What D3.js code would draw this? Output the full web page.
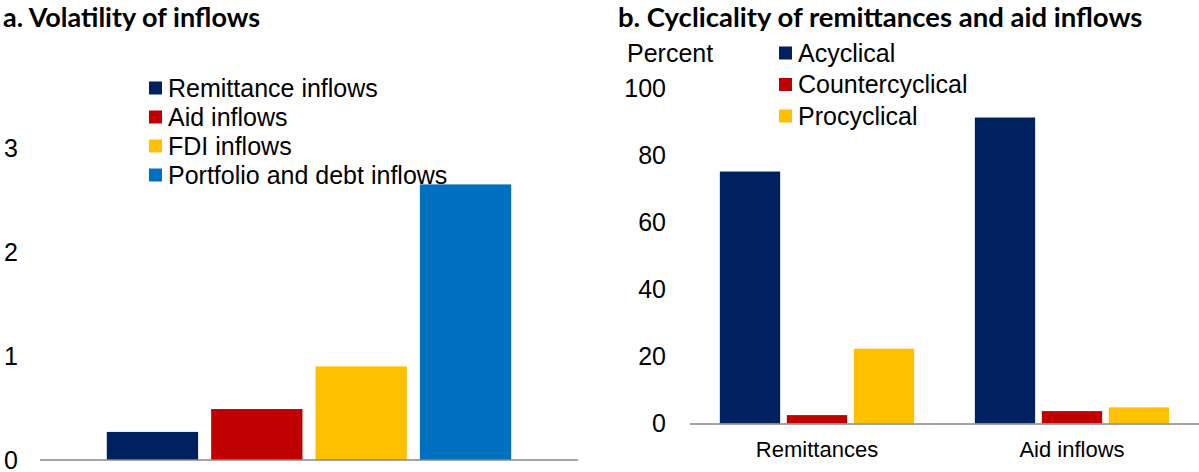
<!DOCTYPE html>
<html>
<head>
<meta charset="utf-8">
<script src="https://cdn.jsdelivr.net/npm/d3@7"></script>
<style>
  body { margin: 0; background: #fff; }
  svg { display: block; }
  text { font-family: "Liberation Sans", Arial, sans-serif; fill: #000; }
  .title { font-family: Lato, "Open Sans", sans-serif; font-weight: bold; }
</style>
</head>
<body>
<div class="chart"></div>
<script>
var width = 1199, height = 472;

// panel a data
var volSeries = ["Remittance inflows", "Aid inflows", "FDI inflows", "Portfolio and debt inflows"];
var volValues = [0.27, 0.49, 0.90, 2.65];
var volTicks = [0, 1, 2, 3];

// panel b data
var cycCategories = ["Remittances", "Aid inflows"];
var cycSeries = ["Acyclical", "Countercyclical", "Procyclical"];
var acyclical = [75.1, 91.2];
var countercyclical = [2.5, 3.7];
var procyclical = [22.3, 4.8];
var cycTicks = [0, 20, 40, 60, 80, 100];

var colors = ["#002060", "#C00000", "#FFC000", "#0070C0"];

var svg = d3.select(".chart")
    .append("svg")
    .attr("width", width)
    .attr("height", height);

// ---------- panel a ----------
var a = svg.append("g");

a.append("text")
    .attr("class", "title")
    .attr("x", 3)
    .attr("y", 27)
    .style("font-size", "27px")
    .text("a. Volatility of inflows");

var xa = d3.scaleBand()
    .domain(volSeries)
    .range([40, 578])
    .paddingInner(0.125)
    .paddingOuter(0.64);

var ya = d3.scaleLinear()
    .domain([0, 3])
    .range([460, 148]);

a.append("g")
    .selectAll("rect")
    .data(volSeries)
    .enter().append("rect")
    .attr("x", function (d) { return xa(d); })
    .attr("y", function (d, i) { return ya(volValues[i]); })
    .attr("width", xa.bandwidth())
    .attr("height", function (d, i) { return ya(0) - ya(volValues[i]); })
    .style("fill", function (d, i) { return colors[i]; });

var yaAxis = a.append("g")
    .attr("transform", "translate(18,0)")
    .call(d3.axisLeft(ya).tickValues(volTicks).tickFormat(d3.format("d")).tickSize(0).tickPadding(0));
yaAxis.select(".domain").remove();
yaAxis.selectAll("text")
    .style("font-size", "25px")
    .style("font-family", "Liberation Sans, Arial, sans-serif");

a.append("line")
    .attr("x1", 40)
    .attr("x2", 578)
    .attr("y1", ya(0))
    .attr("y2", ya(0))
    .style("stroke", "#878787")
    .style("stroke-width", 1.5);

// legend a
var legA = a.append("g")
    .selectAll("g")
    .data(volSeries)
    .enter().append("g")
    .attr("transform", function (d, i) { return "translate(149," + (88 + i * 29) + ")"; });
legA.append("rect")
    .attr("x", 0).attr("y", -6.5)
    .attr("width", 13).attr("height", 13)
    .style("fill", function (d, i) { return colors[i]; });
legA.append("text")
    .attr("x", 19)
    .attr("dy", "0.35em")
    .style("font-size", "25px")
    .text(function (d) { return d; });

// ---------- panel b ----------
var b = svg.append("g");

b.append("text")
    .attr("class", "title")
    .attr("x", 618)
    .attr("y", 27)
    .style("font-size", "27.5px")
    .text("b. Cyclicality of remittances and aid inflows");

b.append("text")
    .attr("x", 627)
    .attr("y", 53)
    .attr("dy", "0.35em")
    .style("font-size", "25px")
    .text("Percent");

var x0 = d3.scaleBand()
    .domain(cycCategories)
    .range([689.5, 1199.5])
    .padding(0);

var x1 = d3.scaleBand()
    .domain(cycSeries)
    .range([0, x0.bandwidth()])
    .paddingInner(0.1)
    .paddingOuter(0.453);

var yb = d3.scaleLinear()
    .domain([0, 100])
    .range([423.5, 88]);

var cycData = cycCategories.map(function (c, i) {
    return [acyclical[i], countercyclical[i], procyclical[i]];
});

var groups = b.append("g")
    .selectAll("g")
    .data(cycCategories)
    .enter().append("g")
    .attr("transform", function (d) { return "translate(" + x0(d) + ",0)"; });

groups.selectAll("rect")
    .data(function (d, i) { return cycData[i]; })
    .enter().append("rect")
    .attr("x", function (d, j) { return x1(cycSeries[j]); })
    .attr("y", function (d) { return yb(d); })
    .attr("width", x1.bandwidth())
    .attr("height", function (d) { return yb(0) - yb(d); })
    .style("fill", function (d, j) { return colors[j]; });

var ybAxis = b.append("g")
    .attr("transform", "translate(666,0)")
    .call(d3.axisLeft(yb).tickValues(cycTicks).tickSize(0).tickPadding(0));
ybAxis.select(".domain").remove();
ybAxis.selectAll("text")
    .style("font-size", "25px")
    .style("font-family", "Liberation Sans, Arial, sans-serif");

var xbAxis = b.append("g")
    .attr("transform", "translate(0," + yb(0) + ")")
    .call(d3.axisBottom(x0).tickSize(0).tickPadding(17.5).tickSizeOuter(0));
xbAxis.select(".domain")
    .style("stroke", "#878787")
    .style("stroke-width", 1.5);
xbAxis.selectAll("text")
    .style("font-size", "22px")
    .style("font-family", "Liberation Sans, Arial, sans-serif");

// legend b
var legB = b.append("g")
    .selectAll("g")
    .data(cycSeries)
    .enter().append("g")
    .attr("transform", function (d, i) { return "translate(779," + (53 + i * 31.5) + ")"; });
legB.append("rect")
    .attr("x", 0).attr("y", -6.5)
    .attr("width", 13).attr("height", 13)
    .style("fill", function (d, i) { return colors[i]; });
legB.append("text")
    .attr("x", 19)
    .attr("dy", "0.35em")
    .style("font-size", "25px")
    .text(function (d) { return d; });
</script>
</body>
</html>
